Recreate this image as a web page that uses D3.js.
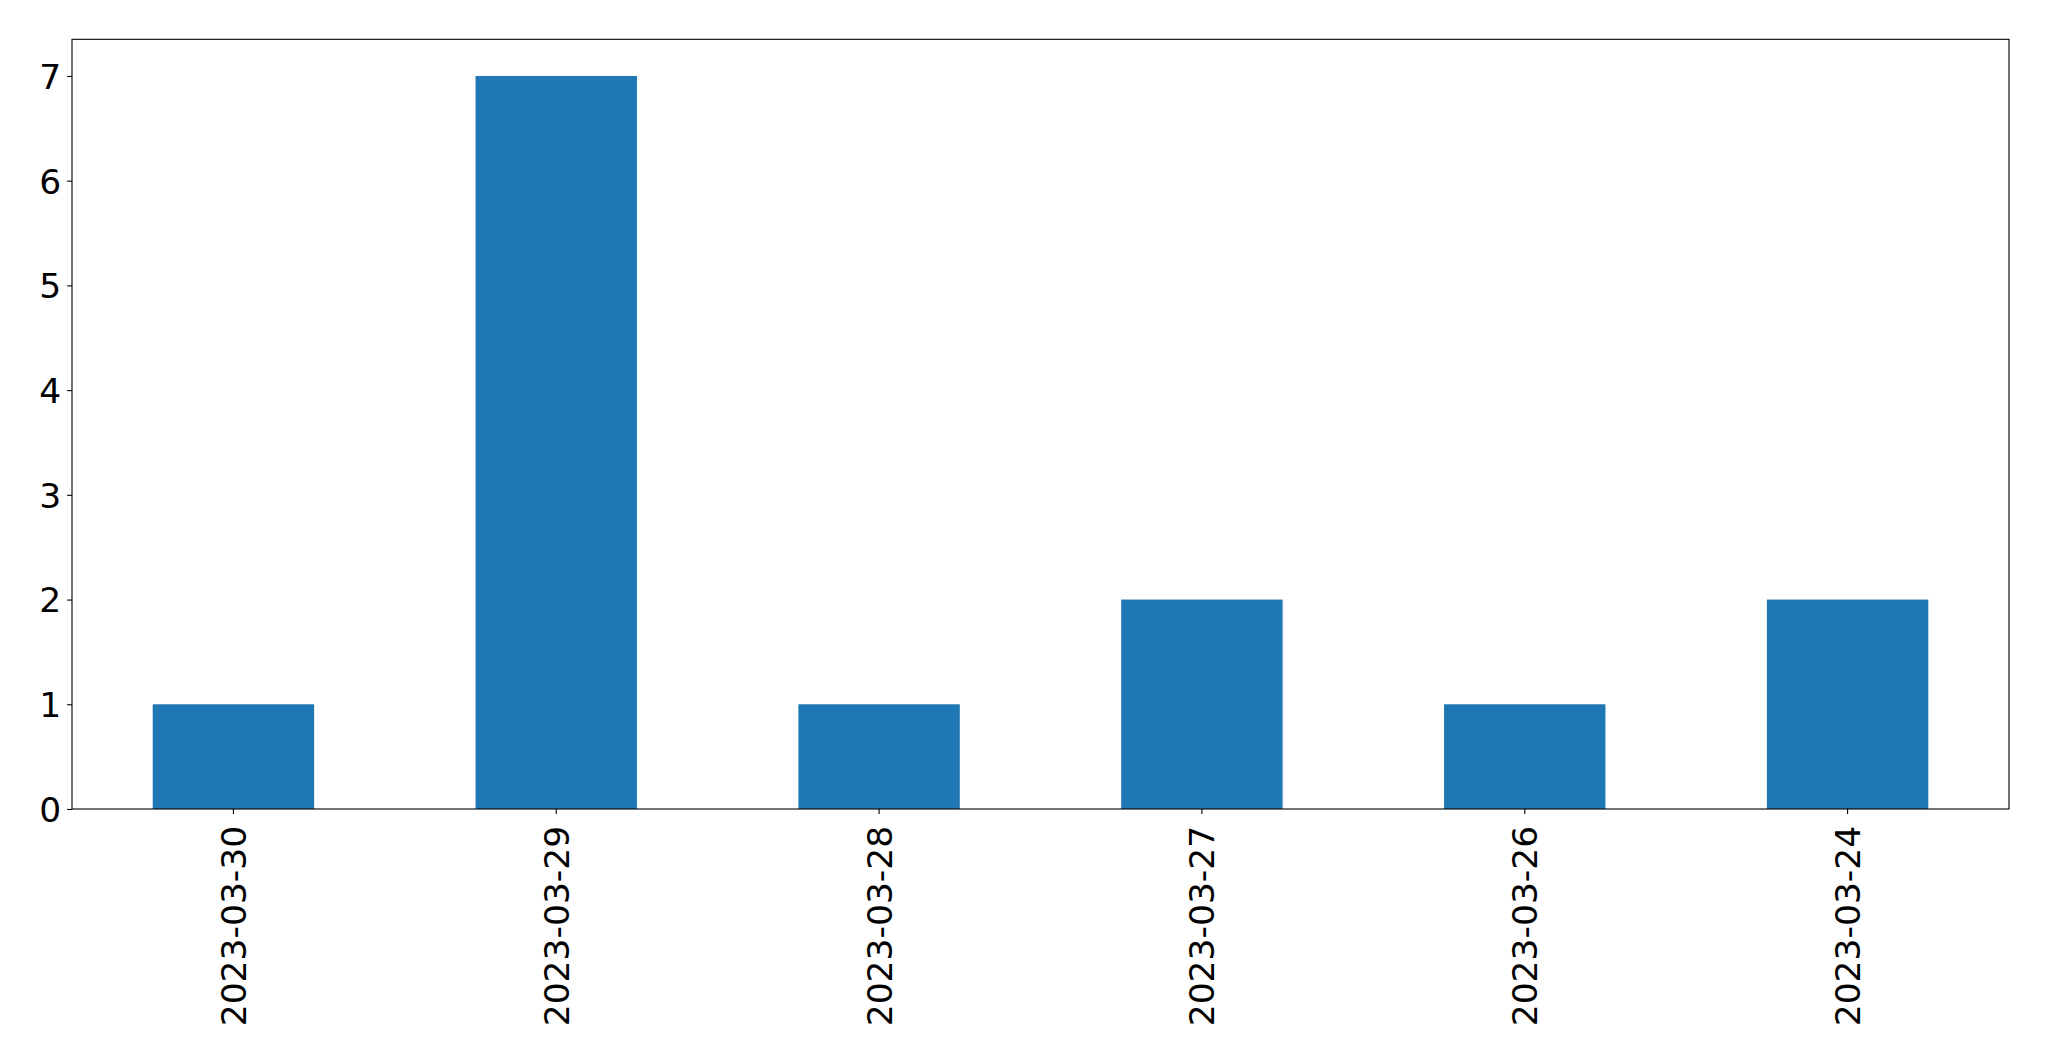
<!DOCTYPE html>
<html>
<head>
<meta charset="utf-8">
<script src="https://cdn.jsdelivr.net/npm/d3@7"></script>
<style>
  html, body { margin: 0; padding: 0; background: #fff; }
  svg { display: block; }
</style>
</head>
<body>
<script>
const categories = ["2023-03-30", "2023-03-29", "2023-03-28", "2023-03-27", "2023-03-26", "2023-03-24"];
const values = [1, 7, 1, 2, 1, 2];
const yTicks = [0, 1, 2, 3, 4, 5, 6, 7];

(function () {
const W = 2049, H = 1061;
const mLeft = 72, mRight = 2009, mTop = 39.3, mBottom = 809;
const fontSize = 34.5;
const tickLen = 4.9, pad = 4.9;

const svg = d3.select("body").append("svg")
  .attr("width", W).attr("height", H)
  .style("font-family", "'DejaVu Sans', sans-serif");

svg.append("rect").attr("width", W).attr("height", H).attr("fill", "#fff");

const x = d3.scaleBand().domain(categories).range([mLeft, mRight])
  .paddingInner(0.5).paddingOuter(0.25);
const y = d3.scaleLinear().domain([0, 7.35]).range([mBottom, mTop]);

// bars
svg.append("g").selectAll("rect").data(values).join("rect")
  .attr("x", (d, i) => x(categories[i]))
  .attr("width", x.bandwidth())
  .attr("y", d => y(d))
  .attr("height", d => y(0) - y(d))
  .attr("fill", "#1f77b4");

// y axis
const yAxis = d3.axisLeft(y).tickValues(yTicks).tickFormat(d3.format("d"))
  .tickSize(tickLen).tickPadding(pad + 1);
const gy = svg.append("g").attr("transform", `translate(${mLeft},0)`).call(yAxis);
gy.select(".domain").remove();
gy.selectAll(".tick line").attr("stroke", "#000").attr("stroke-width", 1.1);
gy.selectAll(".tick text").attr("font-size", fontSize).attr("fill", "#000")
  .attr("font-family", "'DejaVu Sans', sans-serif").attr("dy", "0.36em");

// x axis
const xAxis = d3.axisBottom(x).tickSize(tickLen).tickPadding(pad);
const gx = svg.append("g").attr("transform", `translate(0,${mBottom})`).call(xAxis);
gx.select(".domain").remove();
gx.selectAll(".tick line").attr("stroke", "#000").attr("stroke-width", 1.1);
gx.selectAll(".tick text")
  .attr("font-size", fontSize).attr("fill", "#000")
  .attr("font-family", "'DejaVu Sans', sans-serif")
  .attr("text-anchor", "end")
  .attr("transform", "rotate(-90)")
  .attr("x", -(tickLen + pad + 7))
  .attr("y", 0)
  .attr("dy", "0.36em");

// frame
svg.append("rect")
  .attr("x", mLeft).attr("y", mTop)
  .attr("width", mRight - mLeft).attr("height", mBottom - mTop)
  .attr("fill", "none").attr("stroke", "#000").attr("stroke-width", 1.1);
})();
</script>
</body>
</html>
